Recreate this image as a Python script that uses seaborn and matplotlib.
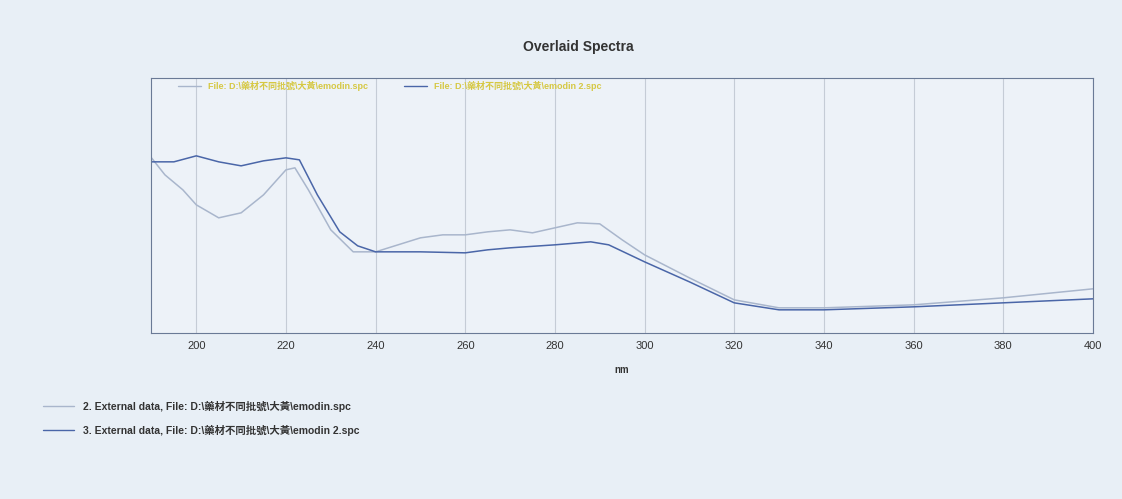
import numpy as np
import pandas as pd
import matplotlib.pyplot as plt
import seaborn as sns
from matplotlib.lines import Line2D

# 波長 (nm) と吸光度
nm_1 = [190, 193, 197, 200, 205, 210, 215, 220, 222, 225, 230, 235, 240, 245, 250, 255,
        260, 265, 270, 275, 280, 285, 290, 295, 300, 310, 320, 330, 340, 360, 380, 400]
abs_1 = [1.75, 1.58, 1.43, 1.28, 1.15, 1.20, 1.38, 1.63, 1.65, 1.43, 1.03, 0.81, 0.81, 0.88,
         0.95, 0.98, 0.98, 1.01, 1.03, 1.00, 1.05, 1.10, 1.09, 0.93, 0.78, 0.55, 0.33, 0.25,
         0.25, 0.28, 0.35, 0.44]
nm_2 = [190, 195, 200, 205, 210, 215, 220, 223, 227, 232, 236, 240, 250, 260, 265, 270,
        280, 288, 292, 300, 310, 320, 330, 340, 360, 380, 400]
abs_2 = [1.71, 1.71, 1.77, 1.71, 1.67, 1.72, 1.75, 1.73, 1.38, 1.01, 0.87, 0.81, 0.81, 0.80,
         0.83, 0.85, 0.88, 0.91, 0.88, 0.71, 0.51, 0.30, 0.23, 0.23, 0.26, 0.30, 0.34]
file_1 = "File: D:\\藥材不同批號\\大黃\\emodin.spc"
file_2 = "File: D:\\藥材不同批號\\大黃\\emodin 2.spc"

df = pd.concat([
    pd.DataFrame({"nm": nm_1, "abs": abs_1, "series": "1"}),
    pd.DataFrame({"nm": nm_2, "abs": abs_2, "series": "2"}),
])

sns.set_style("white")
plt.rcParams['font.family'] = ['Liberation Sans', 'Noto Sans CJK TC']
bg = "#e8eff6"
col_1 = "#a9b6cc"
col_2 = "#4a66a8"

fig = plt.figure(figsize=(11.22, 4.99), dpi=100, facecolor=bg)
ax = fig.add_axes([0.135, 0.333, 0.839, 0.511], facecolor="#edf2f8")
sns.lineplot(data=df, x="nm", y="abs", hue="series", palette=[col_1, col_2],
             linewidth=1.1, legend=False, ax=ax)
ax.set_xlim(190, 400)
ax.set_ylim(0, 2.55)
ax.set_xticks(range(200, 401, 20))
ax.set_yticks([])
ax.tick_params(axis="x", labelsize=8, colors="#333333", length=0, pad=6)
ax.grid(axis="x", color="#c5ccd6", linewidth=0.8)
for s in ax.spines.values():
    s.set_color("#6a7a96")
ax.set_xlabel("nm", fontsize=7, fontweight="bold", color="#333333", labelpad=10)
ax.set_ylabel("")
fig.text(0.515, 0.905, "Overlaid Spectra", fontsize=10, fontweight="bold",
         color="#333333", ha="center", va="center")

handles = [Line2D([], [], color=col_1, lw=1), Line2D([], [], color=col_2, lw=1)]
leg = ax.legend(handles, [file_1, file_2], loc="upper left", ncol=2, frameon=False,
                fontsize=6.5, bbox_to_anchor=(0.02, 1.02), handlelength=2.5, columnspacing=4,
                prop={"size": 6.5, "weight": "bold"})
for t in leg.get_texts():
    t.set_color("#d6c843")

fig.legend(handles, ["2. External data, " + file_1, "3. External data, " + file_2],
           loc="upper left", bbox_to_anchor=(0.03, 0.215), frameon=False,
           prop={"size": 7.5, "weight": "bold"},
           handlelength=3, labelspacing=1.2, labelcolor="#333333")

plt.savefig("out.png", facecolor=bg)
